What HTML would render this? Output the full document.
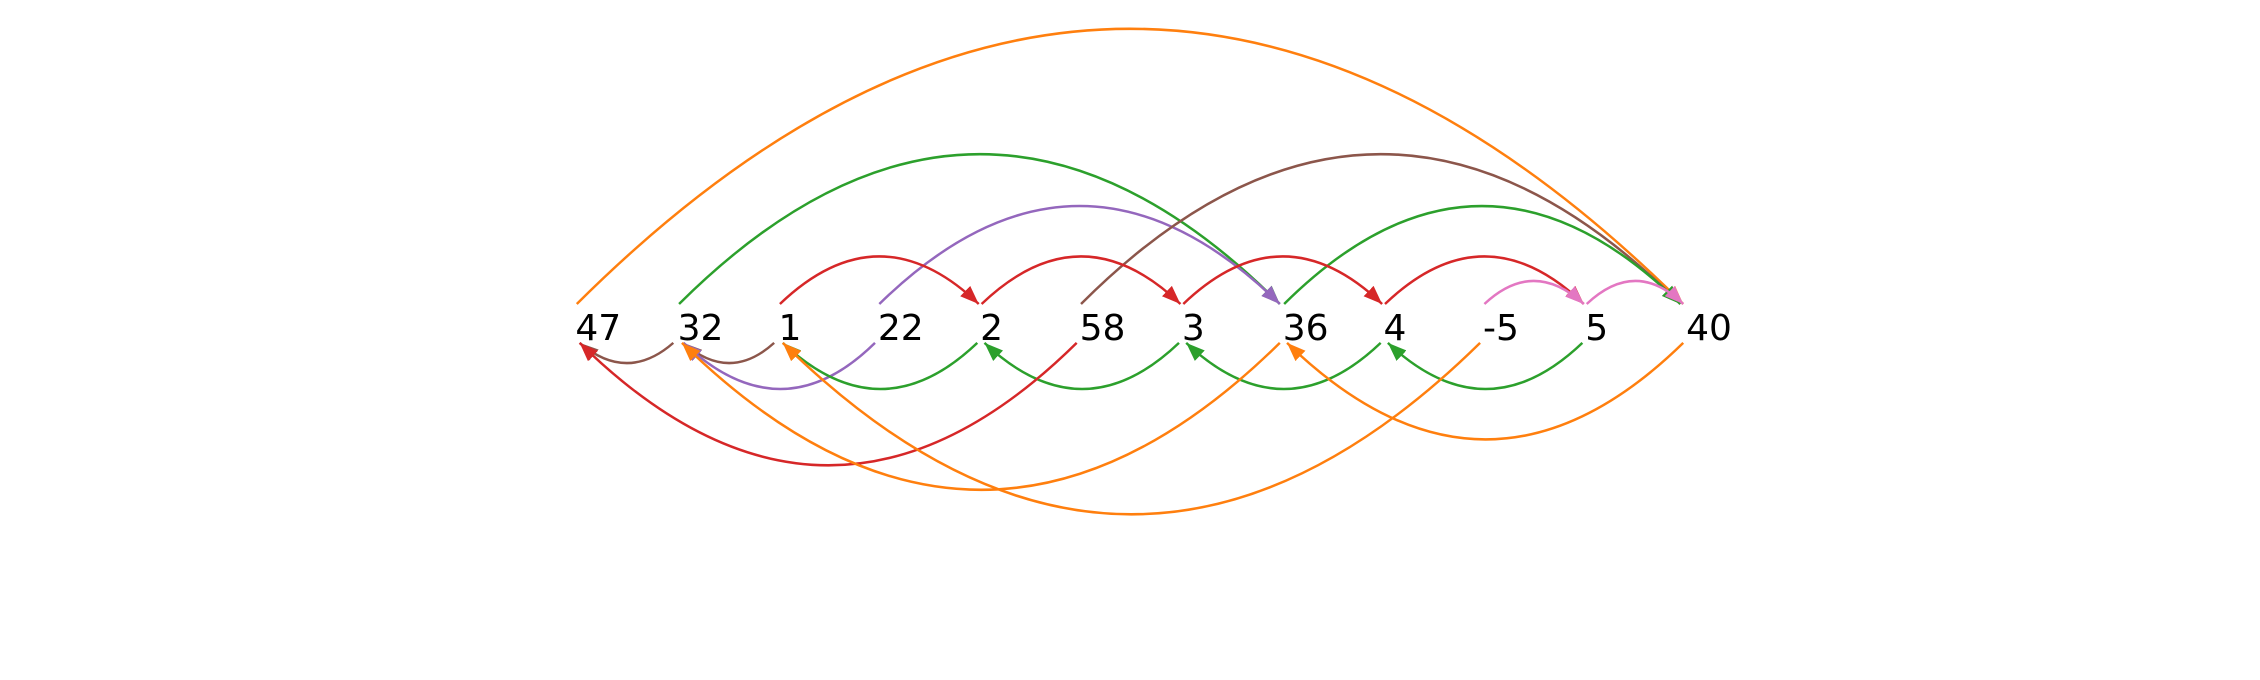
<!DOCTYPE html>
<html><head><meta charset="utf-8"><style>
html,body{margin:0;padding:0;background:#fff;}
svg{display:block}
</style></head><body>
<svg width="2260" height="680" viewBox="0 0 1568 472" xmlns="http://www.w3.org/2000/svg">
<defs>
<marker id="mo" markerUnits="userSpaceOnUse" markerWidth="14" markerHeight="10" refX="13" refY="5" orient="auto"><path d="M0,0 L13,5 L0,10 z" fill="#ff7f0e"/></marker>
<marker id="mg" markerUnits="userSpaceOnUse" markerWidth="14" markerHeight="10" refX="13" refY="5" orient="auto"><path d="M0,0 L13,5 L0,10 z" fill="#2ca02c"/></marker>
<marker id="mr" markerUnits="userSpaceOnUse" markerWidth="14" markerHeight="10" refX="13" refY="5" orient="auto"><path d="M0,0 L13,5 L0,10 z" fill="#d62728"/></marker>
<marker id="mp" markerUnits="userSpaceOnUse" markerWidth="14" markerHeight="10" refX="13" refY="5" orient="auto"><path d="M0,0 L13,5 L0,10 z" fill="#9467bd"/></marker>
<marker id="mb" markerUnits="userSpaceOnUse" markerWidth="14" markerHeight="10" refX="13" refY="5" orient="auto"><path d="M0,0 L13,5 L0,10 z" fill="#8c564b"/></marker>
<marker id="mk" markerUnits="userSpaceOnUse" markerWidth="14" markerHeight="10" refX="13" refY="5" orient="auto"><path d="M0,0 L13,5 L0,10 z" fill="#e377c2"/></marker>
</defs>
<g fill="none" stroke-width="1.7">
<path d="M400,211 Q784,-171 1168,211" stroke="#ff7f0e" marker-end="url(#mo)"/>
<path d="M471,211 Q680,3 888,211" stroke="#2ca02c" marker-end="url(#mg)"/>
<path d="M610,211 Q749,75 888,211" stroke="#9467bd" marker-end="url(#mp)"/>
<path d="M750,211 Q958,3 1166,211" stroke="#8c564b" marker-end="url(#mb)"/>
<path d="M891,211 Q1028,75 1166,211" stroke="#2ca02c" marker-end="url(#mg)"/>
<path d="M541,211 Q610,145 679,211" stroke="#d62728" marker-end="url(#mr)"/>
<path d="M681,211 Q750,145 819,211" stroke="#d62728" marker-end="url(#mr)"/>
<path d="M821,211 Q890,145 959,211" stroke="#d62728" marker-end="url(#mr)"/>
<path d="M961,211 Q1030,145 1099,211" stroke="#d62728" marker-end="url(#mr)"/>
<path d="M1030,211 Q1064,179 1099,211" stroke="#e377c2" marker-end="url(#mk)"/>
<path d="M1101,211 Q1135,179 1168,211" stroke="#e377c2" marker-end="url(#mk)"/>
<path d="M467,238 Q435,266 402,238" stroke="#8c564b" marker-end="url(#mb)"/>
<path d="M537,238 Q506,266 474,238" stroke="#8c564b" marker-end="url(#mb)"/>
<path d="M607,238 Q542,302 474,238" stroke="#9467bd" marker-end="url(#mp)"/>
<path d="M678,238 Q611,302 543,238" stroke="#2ca02c" marker-end="url(#mg)"/>
<path d="M818,238 Q751,302 683,238" stroke="#2ca02c" marker-end="url(#mg)"/>
<path d="M958,238 Q891,302 823,238" stroke="#2ca02c" marker-end="url(#mg)"/>
<path d="M1098,238 Q1031,302 963,238" stroke="#2ca02c" marker-end="url(#mg)"/>
<path d="M747,238 Q575,408 402,238" stroke="#d62728" marker-end="url(#mr)"/>
<path d="M888,238 Q681,442 473,238" stroke="#ff7f0e" marker-end="url(#mo)"/>
<path d="M1027,238 Q785,476 543,238" stroke="#ff7f0e" marker-end="url(#mo)"/>
<path d="M1168,238 Q1031,372 893,238" stroke="#ff7f0e" marker-end="url(#mo)"/>
</g>
<g font-family="'DejaVu Sans','Liberation Sans',sans-serif" font-size="25" fill="#000">
<text x="399" y="236">47</text>
<text x="470" y="236">32</text>
<text x="540" y="236">1</text>
<text x="609" y="236">22</text>
<text x="680" y="236">2</text>
<text x="749" y="236">58</text>
<text x="820" y="236">3</text>
<text x="890" y="236">36</text>
<text x="960" y="236">4</text>
<text x="1029" y="236">-5</text>
<text x="1100" y="236">5</text>
<text x="1170" y="236">40</text>
</g>
</svg>
</body></html>
